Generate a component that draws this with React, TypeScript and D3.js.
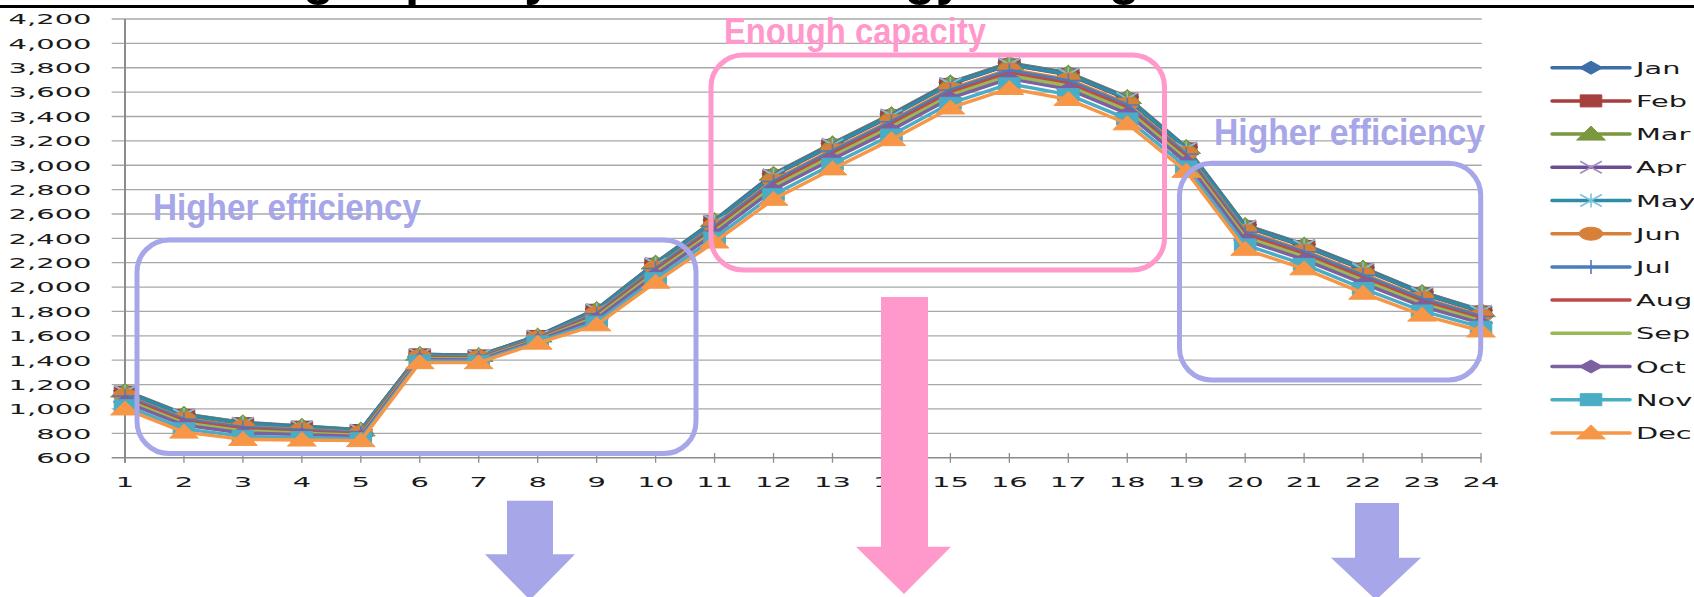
import React, { useEffect } from 'react';
import * as d3 from 'd3';

// hours on the x axis, load on the y axis
const hours = [1, 2, 3, 4, 5, 6, 7, 8, 9, 10, 11, 12, 13, 14, 15, 16, 17, 18, 19, 20, 21, 22, 23, 24];
const yTickValues = [600, 800, 1000, 1200, 1400, 1600, 1800, 2000, 2200, 2400, 2600, 2800, 3000, 3200, 3400, 3600, 3800, 4000, 4200];
const months = ['Jan', 'Feb', 'Mar', 'Apr', 'May', 'Jun', 'Jul', 'Aug', 'Sep', 'Oct', 'Nov', 'Dec'];

const jan = [1150, 960, 890, 860, 830, 1450, 1440, 1600, 1820, 2200, 2550, 2930, 3180, 3420, 3680, 3840, 3760, 3560, 3150, 2510, 2350, 2160, 1960, 1810];
const feb = [1138, 948, 879, 851, 823, 1444, 1435, 1595, 1810, 2187, 2536, 2913, 3163, 3403, 3663, 3823, 3742, 3542, 3134, 2494, 2334, 2143, 1945, 1796];
const mar = [1147, 957, 887, 858, 828, 1449, 1439, 1599, 1817, 2197, 2546, 2926, 3176, 3416, 3676, 3836, 3756, 3556, 3146, 2506, 2346, 2156, 1956, 1807];
const apr = [1144, 954, 884, 855, 826, 1447, 1438, 1598, 1815, 2194, 2543, 2922, 3172, 3412, 3672, 3832, 3751, 3551, 3142, 2502, 2342, 2152, 1952, 1803];
const may = [1141, 951, 882, 853, 825, 1446, 1436, 1596, 1812, 2190, 2539, 2917, 3167, 3407, 3667, 3827, 3747, 3547, 3138, 2498, 2338, 2147, 1949, 1800];
const jun = [1112, 922, 855, 831, 807, 1432, 1425, 1585, 1787, 2160, 2505, 2877, 3127, 3367, 3627, 3787, 3705, 3505, 3100, 2460, 2300, 2107, 1912, 1767];
const jul = [1105, 915, 848, 825, 803, 1429, 1422, 1582, 1781, 2152, 2496, 2867, 3117, 3357, 3617, 3777, 3694, 3494, 3090, 2450, 2290, 2097, 1903, 1759];
const aug = [1090, 900, 834, 814, 794, 1422, 1416, 1576, 1768, 2136, 2478, 2846, 3096, 3336, 3596, 3756, 3672, 3472, 3070, 2430, 2270, 2076, 1884, 1742];
const sep = [1075, 885, 820, 802, 785, 1415, 1410, 1570, 1755, 2120, 2460, 2825, 3075, 3315, 3575, 3735, 3650, 3450, 3050, 2410, 2250, 2055, 1865, 1725];
const oct = [1057, 867, 803, 789, 774, 1407, 1403, 1563, 1739, 2101, 2438, 2800, 3050, 3290, 3550, 3710, 3624, 3424, 3026, 2386, 2226, 2030, 1842, 1705];
const nov = [1027, 837, 775, 766, 756, 1393, 1391, 1551, 1713, 2069, 2402, 2758, 3008, 3248, 3508, 3668, 3580, 3380, 2986, 2346, 2186, 1988, 1804, 1671];
const dec = [1000, 810, 750, 745, 740, 1380, 1380, 1540, 1690, 2040, 2370, 2720, 2970, 3210, 3470, 3630, 3540, 3340, 2950, 2310, 2150, 1950, 1770, 1640];

const seriesValues = [jan, feb, mar, apr, may, jun, jul, aug, sep, oct, nov, dec];
const lineColors = ['#3d6ea8', '#a5403d', '#7a983d', '#6c4e92', '#2f8ca6', '#d6803a', '#4a7ebb', '#be4b48', '#98b954', '#7d60a0', '#4bacc6', '#f79646'];
const markerColors = ['#3d6ea8', '#a5403d', '#7a983d', '#a08cc2', '#7cc3d8', '#d6803a', '#4a7ebb', '', '', '#7d60a0', '#4bacc6', '#f79646'];
const markerKinds = ['diamond', 'square', 'triangle', 'x', 'star', 'circle', 'plus', 'none', 'none', 'diamond', 'square', 'triangle'];

const W = 1694;
const H = 597;
const STRETCH = 2; // chart text is squashed wide in the slide

const x = d3.scalePoint<number>().domain(hours).range([125, 1481]);
const y = d3.scaleLinear().domain([600, 4200]).range([457.7, 19]);

const Marker: React.FC<{ kind: string; cx: number; cy: number; color: string }> = ({ kind, cx, cy, color }) => {
  if (kind === 'none') return null;
  const t = `translate(${cx},${cy}) scale(1.8,1)`;
  const common = { vectorEffect: 'non-scaling-stroke' as const };
  if (kind === 'diamond') return <path transform={t} d="M0,-6.5L6.5,0L0,6.5L-6.5,0Z" fill={color} stroke={color} {...common} />;
  if (kind === 'square') return <path transform={t} d="M-6,-6H6V6H-6Z" fill={color} stroke={color} {...common} />;
  if (kind === 'triangle') return <path transform={t} d="M0,-8L8,6L-8,6Z" fill={color} stroke={color} {...common} />;
  if (kind === 'circle') return <circle transform={t} r={6.5} fill={color} stroke={color} {...common} />;
  if (kind === 'x') return <path transform={t} d="M-6,-6L6,6M-6,6L6,-6" fill="none" stroke={color} strokeWidth={1.6} {...common} />;
  if (kind === 'star') return <path transform={t} d="M-6,-6L6,6M-6,6L6,-6M0,-7V7" fill="none" stroke={color} strokeWidth={1.6} {...common} />;
  if (kind === 'plus') return <path transform={t} d="M0,-7V7M-7,0H7" fill="none" stroke={color} strokeWidth={1.6} {...common} />;
  return null;
};

const App: React.FC = () => {
  useEffect(() => {
    document.body.style.margin = '0';
    document.body.style.overflow = 'hidden';
  }, []);

  const line = d3.line<number>()
    .x((_, i) => x(hours[i])!)
    .y(d => y(d));

  const purple = '#a6a6e8';
  const pink = '#ff99cc';
  const annotFont = '"Liberation Sans Narrow", "Liberation Sans", "Noto Sans", sans-serif';

  return (
    <div style={{ position: 'absolute', left: 0, top: 0 }}>
      <svg width={W} height={H} style={{ display: 'block', background: '#fff' }} fontFamily="'DejaVu Sans', Verdana, sans-serif">
        {/* title, cut off by the slide edge */}
        <text x={110} y={-6} fontSize={54} fontWeight="bold" fontFamily="'Liberation Sans', Arial, sans-serif"
          textLength={1030} lengthAdjust="spacingAndGlyphs" fill="#000">
          Matching capacity with less energy saving
        </text>
        <rect x={0} y={5} width={W} height={3} fill="#000" />

        {/* Grid */}
        {yTickValues.map(v => (
          <line key={'g' + v} x1={111.7} x2={1481.7} y1={y(v)} y2={y(v)}
            stroke={v === 600 ? '#8c8c8c' : '#a8a8a8'} strokeWidth={v === 600 ? 1.6 : 1.3} />
        ))}
        <line x1={125} x2={125} y1={y(4200)} y2={462.7} stroke="#8c8c8c" strokeWidth={2} />
        {hours.map(h => (
          <line key={'t' + h} x1={x(h)} x2={x(h)} y1={453} y2={462.7} stroke="#8c8c8c" strokeWidth={1.3} />
        ))}

        {/* Axis labels */}
        {yTickValues.map(v => (
          <text key={'yl' + v} transform={`translate(91.5,${y(v) + 5.3}) scale(${STRETCH},1)`}
            textAnchor="end" fontSize={14.5} fill="#1a1a1a">
            {d3.format(',')(v)}
          </text>
        ))}
        {hours.map(h => (
          <text key={'xl' + h} transform={`translate(${x(h)},486.7) scale(${STRETCH},1)`}
            textAnchor="middle" fontSize={14.5} fill="#1a1a1a">
            {h}
          </text>
        ))}

        {/* Series */}
        {seriesValues.map((vals, si) => (
          <g key={'s' + si}>
            <path d={line(vals)!} fill="none" stroke={lineColors[si]} strokeWidth={3.4} strokeLinejoin="round" />
            {vals.map((v, i) => (
              <Marker key={i} kind={markerKinds[si]} cx={x(hours[i])!} cy={y(v)} color={markerColors[si]} />
            ))}
          </g>
        ))}

        {/* Legend */}
        {months.map((m, i) => {
          const ly = 67.7 + i * 33.2;
          return (
            <g key={'lg' + m}>
              <line x1={1552} x2={1630} y1={ly} y2={ly} stroke={lineColors[i]} strokeWidth={3.5} strokeLinecap="round" />
              <Marker kind={markerKinds[i]} cx={1591} cy={ly} color={markerColors[i]} />
              <text transform={`translate(1636,${ly + 6}) scale(1.8,1)`} fontSize={16} fill="#1a1a1a">{m}</text>
            </g>
          );
        })}

        {/* Annotation boxes */}
        <rect x={137} y={240} width={559} height={213.5} rx={32} fill="none" stroke={purple} strokeWidth={5} />
        <rect x={711} y={55} width={453.5} height={215} rx={32} fill="none" stroke={pink} strokeWidth={5} />
        <rect x={1179.5} y={163.3} width={301.2} height={216.7} rx={32} fill="none" stroke={purple} strokeWidth={5} />

        <text x={153} y={220} fontSize={36} fontWeight="bold" fontFamily={annotFont} fill={purple}
          textLength={268} lengthAdjust="spacingAndGlyphs">Higher efficiency</text>
        <text x={1214} y={145} fontSize={36} fontWeight="bold" fontFamily={annotFont} fill={purple}
          textLength={271} lengthAdjust="spacingAndGlyphs">Higher efficiency</text>
        <text x={724} y={44} fontSize={36} fontWeight="bold" fontFamily={annotFont} fill={pink}
          textLength={262} lengthAdjust="spacingAndGlyphs">Enough capacity</text>

        {/* Arrows */}
        <polygon points="507,500.7 553,500.7 553,554.3 575,554.3 530,600 485,554.3 507,554.3" fill={purple} />
        <polygon points="881,297 928,297 928,546.7 951,546.7 904,594 856,546.7 881,546.7" fill={pink} />
        <polygon points="1355,503 1399,503 1399,557.7 1421,557.7 1376,600 1331,557.7 1355,557.7" fill={purple} />
      </svg>
    </div>
  );
};

export default App;
